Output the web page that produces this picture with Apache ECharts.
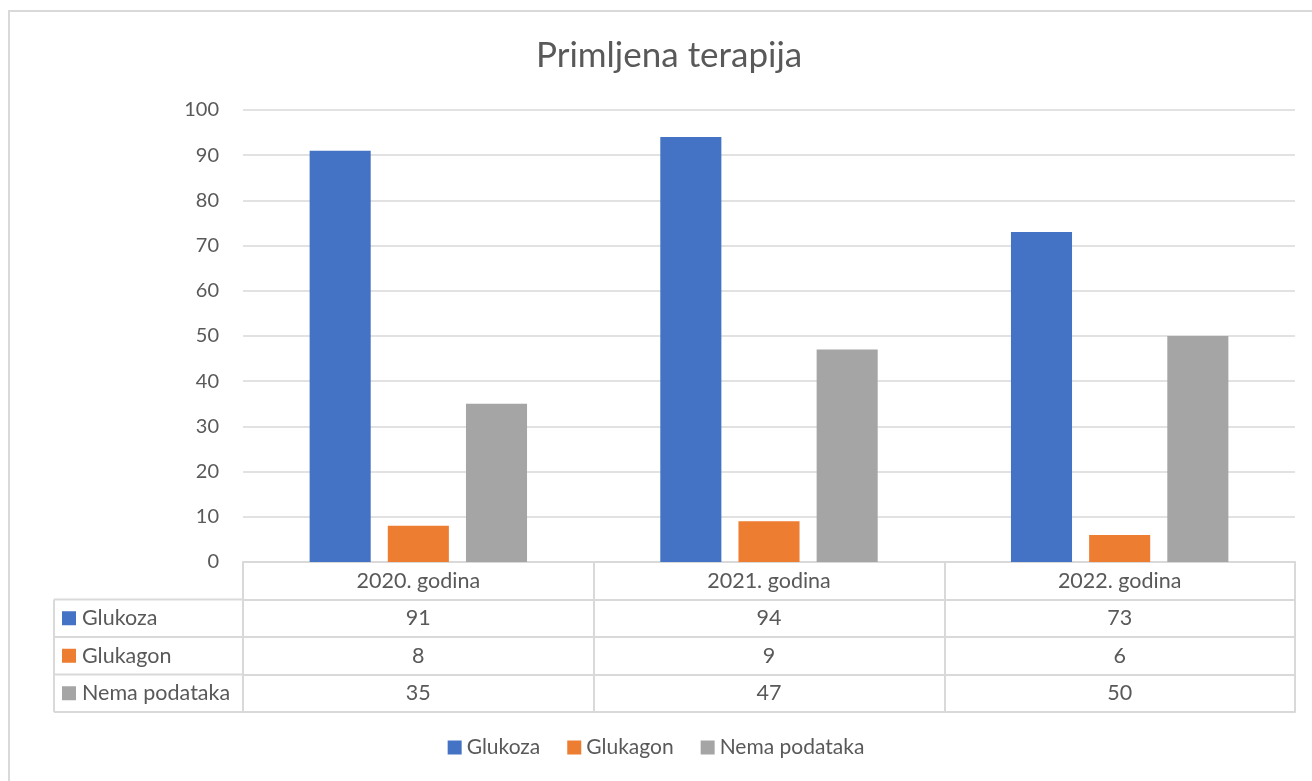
<!DOCTYPE html>
<html>
<head>
<meta charset="utf-8">
<script src="https://cdn.jsdelivr.net/npm/echarts@6/dist/echarts.min.js"></script>
<style>
html, body { margin: 0; padding: 0; background: #fff; }
#chart { width: 1312px; height: 781px; }
</style>
</head>
<body>
<div id="chart"></div>
<script>
// podaci
var categories = ['2020. godina', '2021. godina', '2022. godina'];
var seriesNames = ['Glukoza', 'Glukagon', 'Nema podataka'];
var glukoza = [91, 94, 73];
var glukagon = [8, 9, 6];
var nemaPodataka = [35, 47, 50];
var yMax = 100;
var yStep = 10;

var colors = ['#4472c4', '#ed7d31', '#a5a5a5'];
var values = [glukoza, glukagon, nemaPodataka];
var textColor = '#595959';
var lineColor = '#d9d9d9';
var font = 'Lato';

// raspored tablice
var gridLeft = 243, gridRight = 17, axisY = 562, rowH = 37.5, tableLeft = 54;

var chart = echarts.init(document.getElementById('chart'));

var labelStyle = {
	margin: 0,
	interval: 0,
	lineHeight: rowH,
	fontSize: 21.5,
	fontFamily: font,
	color: textColor
};

var xAxes = [{
	type: 'category',
	data: categories,
	position: 'bottom',
	axisLine: { lineStyle: { color: lineColor, width: 2 } },
	axisTick: { show: true, length: rowH * 4, lineStyle: { color: lineColor, width: 2 } },
	axisLabel: labelStyle
}];
values.forEach(function (row, i) {
	xAxes.push({
		type: 'category',
		data: row.map(String),
		position: 'bottom',
		offset: rowH * (i + 1),
		axisLine: { lineStyle: { color: lineColor, width: 2 } },
		axisTick: { show: false },
		axisLabel: labelStyle
	});
});
xAxes.push({
	type: 'category',
	data: categories.map(function () { return ''; }),
	position: 'bottom',
	offset: rowH * 4,
	axisLine: { lineStyle: { color: lineColor, width: 2 } },
	axisTick: { show: false },
	axisLabel: { show: false }
});

// lijevi stupac tablice
var graphics = [{
	type: 'rect',
	shape: { x: 9, y: 11, width: 1400, height: 900 },
	style: { fill: 'none', stroke: lineColor, lineWidth: 2 },
	silent: true
}, {
	type: 'line',
	shape: { x1: tableLeft, y1: axisY + rowH, x2: tableLeft, y2: axisY + rowH * 4 },
	style: { stroke: lineColor, lineWidth: 2 }
}];
for (var r = 1; r <= 4; r++) {
	graphics.push({
		type: 'line',
		shape: { x1: tableLeft, y1: axisY + rowH * r, x2: gridLeft, y2: axisY + rowH * r },
		style: { stroke: lineColor, lineWidth: 2 }
	});
}
seriesNames.forEach(function (name, i) {
	var cy = axisY + rowH * (i + 1.5);
	graphics.push({
		type: 'rect',
		shape: { x: 62, y: cy - 7, width: 14, height: 14 },
		style: { fill: colors[i] }
	});
	graphics.push({
		type: 'text',
		x: 82,
		y: cy,
		style: { text: name, fill: textColor, font: '21.5px ' + font, verticalAlign: 'middle' }
	});
});

var option = {
	color: colors,
	title: {
		text: 'Primljena terapija',
		left: 531,
		top: 33,
		textStyle: { fontFamily: font, fontWeight: 'normal', fontSize: 35, color: textColor }
	},
	legend: {
		bottom: 18,
		left: 'center',
		icon: 'rect',
		itemWidth: 14,
		itemHeight: 14,
		itemGap: 27,
		textStyle: { fontFamily: font, fontSize: 21, color: textColor },
		data: seriesNames
	},
	grid: {
		left: gridLeft,
		right: gridRight,
		top: 110,
		bottom: 781 - axisY,
		outerBoundsMode: 'none'
	},
	xAxis: xAxes,
	yAxis: {
		type: 'value',
		min: 0,
		max: yMax,
		interval: yStep,
		axisLine: { show: false },
		axisTick: { show: false },
		axisLabel: { margin: 24, fontSize: 20, fontFamily: font, color: textColor },
		splitLine: { lineStyle: { color: lineColor, width: 1.5 } }
	},
	series: seriesNames.map(function (name, i) {
		return {
			name: name,
			type: 'bar',
			data: values[i],
			barGap: '28%',
			barCategoryGap: '38%'
		};
	}),
	graphic: graphics
};

chart.setOption(option);
</script>
</body>
</html>
